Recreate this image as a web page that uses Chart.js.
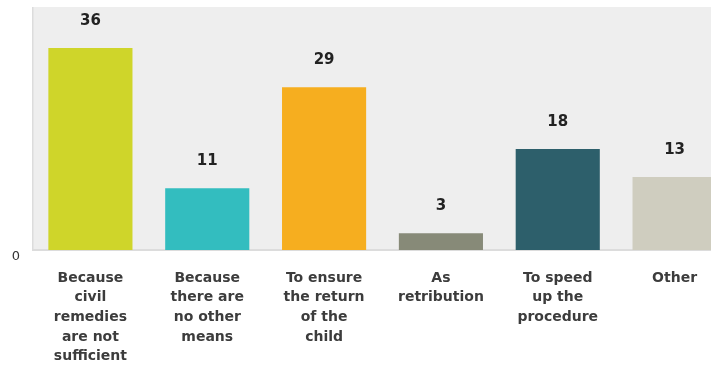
<!DOCTYPE html>
<html>
<head>
<meta charset="utf-8">
<script src="https://cdn.jsdelivr.net/npm/chart.js@4/dist/chart.umd.min.js"></script>
<style>
    html, body { margin: 0; padding: 0; background: #fff; overflow: hidden; }
    #wrap { width: 733px; height: 370px; position: relative; }
</style>
</head>
<body>
<div id="wrap"><canvas id="myChart"></canvas></div>
<script>
const razones = [
    ["Because", "civil", "remedies", "are not", "sufficient"],
    ["Because", "there are", "no other", "means"],
    ["To ensure", "the return", "of the", "child"],
    ["As", "retribution"],
    ["To speed", "up the", "procedure"],
    ["Other"]
];
const valores = [36, 11, 29, 3, 18, 13];
const colores = ["#cfd52a", "#33bdbf", "#f6ae1f", "#878a78", "#2d5f6b", "#cfcdbf"];
const yTicks = [0];

// fondo gris del area del grafico + bordes
const fondo = {
    id: "fondo",
    beforeDraw: function (chart) {
        const a = chart.chartArea;
        const ctx = chart.ctx;
        ctx.save();
        ctx.fillStyle = "#eeeeee";
        ctx.fillRect(a.left, a.top, a.right - a.left, a.bottom - a.top);
        ctx.fillStyle = "#dcdcdc";
        ctx.fillRect(a.left, a.top, 1.5, a.bottom - a.top);
        ctx.fillRect(a.left, a.bottom - 1, a.right - a.left, 2);
        ctx.restore();
    }
};

// numeros encima de cada barra
const etiquetas = {
    id: "etiquetas",
    afterDatasetsDraw: function (chart) {
        const ctx = chart.ctx;
        const meta = chart.getDatasetMeta(0);
        ctx.save();
        ctx.font = "bold 15px 'DejaVu Sans'";
        ctx.fillStyle = "#222";
        ctx.textAlign = "center";
        ctx.textBaseline = "middle";
        meta.data.forEach(function (bar, i) {
            ctx.fillText(valores[i], bar.x, bar.y - 27);
        });
        ctx.restore();
    }
};

var ctx = document.getElementById("myChart").getContext("2d");
lienzo = new Chart(ctx, {
    type: "bar",
    data: {
        labels: razones,
        datasets: [
            {
                data: valores,
                backgroundColor: colores,
                borderWidth: 0,
                categoryPercentage: 1,
                barPercentage: 0.72,
            },
        ],
    },
    options: {
        responsive: true,
        maintainAspectRatio: false,
        animation: false,
        layout: { padding: { top: 7, left: 0, right: 0, bottom: 0 } },
        plugins: {
            legend: { display: false },
            tooltip: { enabled: false },
        },
        scales: {
            x: {
                grid: { display: false, drawTicks: false },
                border: { display: false },
                ticks: {
                    color: "#3c3c3c",
                    font: { family: "'DejaVu Sans'", size: 14, weight: "bold", lineHeight: 1.41 },
                    padding: 18,
                    maxRotation: 0,
                    autoSkip: false,
                },
                afterFit: function (scale) {
                    scale.height = 120;
                    scale.paddingLeft = 0;
                    scale.paddingRight = 0;
                },
            },
            y: {
                min: 0,
                max: 43.3,
                grid: { display: false, drawTicks: false },
                border: { display: false },
                afterBuildTicks: function (scale) {
                    scale.ticks = yTicks.map(function (v) { return { value: v }; });
                },
                ticks: {
                    color: "#333",
                    font: { family: "'DejaVu Sans'", size: 13 },
                    padding: 12,
                    labelOffset: 7,
                },
                afterFit: function (scale) {
                    scale.width = 32;
                    scale.paddingTop = 0;
                    scale.paddingBottom = 0;
                },
            },
        },
    },
    plugins: [fondo, etiquetas],
});
</script>
</body>
</html>
